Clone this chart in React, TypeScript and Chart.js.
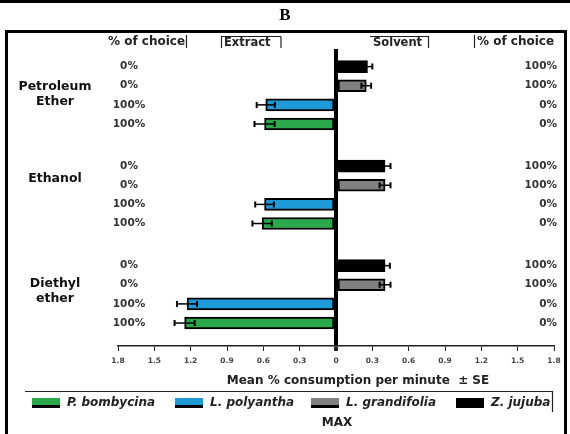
import React, { useEffect, useRef } from 'react';
import { Chart, registerables } from 'chart.js';
Chart.register(...registerables);

// ---------- data ----------
const groupLines = [['Petroleum', 'Ether'], ['Ethanol'], ['Diethyl', 'ether']];
// species in row order (top to bottom inside each group)
const speciesNames = ['Z. jujuba', 'L. grandifolia', 'L. polyantha', 'P. bombycina'];
const speciesSide = ['solvent', 'solvent', 'extract', 'extract'];
const speciesColors = ['#000000', '#808080', '#1E9AD8', '#2AA84A'];

const zJujuba = [0.26, 0.405, 0.405];
const zJujubaSE = [0.04, 0.045, 0.04];
const lGrandifolia = [0.25, 0.405, 0.405];
const lGrandifoliaSE = [0.04, 0.045, 0.045];
const lPolyantha = [0.58, 0.59, 1.23];
const lPolyanthaSE = [0.075, 0.077, 0.083];
const pBombycina = [0.59, 0.61, 1.25];
const pBombycinaSE = [0.083, 0.08, 0.083];

const speciesValues = [zJujuba, lGrandifolia, lPolyantha, pBombycina];
const speciesSE = [zJujubaSE, lGrandifoliaSE, lPolyanthaSE, pBombycinaSE];

// % of choice (extract side, solvent side) per species per group
const extractChoice = [[0, 0, 0], [0, 0, 0], [100, 100, 100], [100, 100, 100]];
const solventChoice = [[100, 100, 100], [100, 100, 100], [0, 0, 0], [0, 0, 0]];

const xMin = -1.8;
const xMax = 1.8;
const xStep = 0.3;

// ---------- layout constants ----------
const GROUP_STEP = 5.2;
const groupLabelAnchor = [1.47, 0.66, 1.35];
const legendOrder = [3, 2, 1, 0];

const SANS = '"DejaVu Sans", Verdana, sans-serif';

export default function App() {
  const ref = useRef<HTMLCanvasElement>(null);

  useEffect(() => {
    const datasets = speciesNames.map((name, si) => ({
      label: name,
      data: speciesValues[si].map((v, gi) => ({
        x: speciesSide[si] === 'extract' ? -v : v,
        y: gi * GROUP_STEP + si,
      })),
      backgroundColor: speciesColors[si],
      borderColor: '#000',
      borderWidth: 2,
      borderSkipped: false as any,
      barThickness: 12,
      grouped: false,
    }));

    const decor = {
      id: 'decor',
      afterDatasetsDraw(chart: any) {
        const ctx = chart.ctx;
        const xs = chart.scales.x;
        ctx.save();
        ctx.strokeStyle = '#000';
        chart.data.datasets.forEach((ds: any, si: number) => {
          const meta = chart.getDatasetMeta(si);
          meta.data.forEach((el: any, gi: number) => {
            const v = ds.data[gi].x;
            const se = speciesSE[si][gi];
            const x1 = xs.getPixelForValue(v - se);
            const x2 = xs.getPixelForValue(v + se);
            const y = el.y;
            ctx.lineWidth = 1.5;
            ctx.beginPath();
            ctx.moveTo(x1, y);
            ctx.lineTo(x2, y);
            ctx.stroke();
            ctx.lineWidth = 2;
            ctx.beginPath();
            ctx.moveTo(x1, y - 3);
            ctx.lineTo(x1, y + 3);
            ctx.moveTo(x2, y - 3);
            ctx.lineTo(x2, y + 3);
            ctx.stroke();
          });
        });
        ctx.restore();
      },
      afterDraw(chart: any) {
        const ctx = chart.ctx;
        const ys = chart.scales.y;
        ctx.save();
        // frames
        ctx.strokeStyle = '#000';
        ctx.lineWidth = 3;
        ctx.beginPath();
        ctx.moveTo(0, 1.5);
        ctx.lineTo(570, 1.5);
        ctx.stroke();
        ctx.beginPath();
        ctx.moveTo(6.5, 440);
        ctx.lineTo(6.5, 31.5);
        ctx.lineTo(565.5, 31.5);
        ctx.lineTo(565.5, 440);
        ctx.stroke();

        // title B
        ctx.fillStyle = '#000';
        ctx.textAlign = 'center';
        ctx.textBaseline = 'middle';
        ctx.font = 'bold 17px "Liberation Serif", "DejaVu Serif", serif';
        ctx.fillText('B', 285, 16);

        // headers
        ctx.fillStyle = '#222';
        ctx.font = 'bold 12px ' + SANS;
        ctx.textAlign = 'left';
        ctx.fillText('% of choice', 108, 42);
        ctx.fillText('% of choice', 477, 42);
        ctx.font = 'bold 11.5px ' + SANS;
        ctx.fillText('Extract', 224, 43);
        ctx.fillText('Solvent', 373, 43);
        ctx.lineWidth = 1.2;
        ctx.strokeStyle = '#222';
        ctx.beginPath();
        ctx.moveTo(186.5, 35); ctx.lineTo(186.5, 48);
        ctx.moveTo(474.5, 35); ctx.lineTo(474.5, 48);
        ctx.moveTo(221.5, 48); ctx.lineTo(221.5, 36.5); ctx.lineTo(281, 36.5);
        ctx.moveTo(281, 36.5); ctx.lineTo(281, 48);
        ctx.moveTo(370, 36.5); ctx.lineTo(428.5, 36.5); ctx.lineTo(428.5, 48);
        ctx.stroke();

        // group labels
        ctx.fillStyle = '#111';
        ctx.textAlign = 'center';
        ctx.font = 'bold 12.5px ' + SANS;
        groupLines.forEach((lines, gi) => {
          const cy = ys.getPixelForValue(gi * GROUP_STEP + groupLabelAnchor[gi]);
          const lh = 15;
          lines.forEach((ln, li) => {
            const y = cy + (li - (lines.length - 1) / 2) * lh;
            ctx.fillText(ln, 55, y);
          });
        });

        // % of choice columns
        ctx.fillStyle = '#333';
        ctx.font = 'bold 10.5px ' + SANS;
        speciesNames.forEach((_, si) => {
          groupLines.forEach((__, gi) => {
            const y = ys.getPixelForValue(gi * GROUP_STEP + si);
            ctx.textAlign = 'center';
            ctx.fillText(extractChoice[si][gi] + '%', 129, y);
            ctx.textAlign = 'right';
            ctx.fillText(solventChoice[si][gi] + '%', 557, y);
          });
        });

        // axis title
        ctx.fillStyle = '#222';
        ctx.textAlign = 'center';
        ctx.font = 'bold 12px ' + SANS;
        ctx.fillText('Mean % consumption per minute  \u00B1 SE', 358, 381);

        // legend
        ctx.strokeStyle = '#222';
        ctx.lineWidth = 1.2;
        ctx.beginPath();
        ctx.moveTo(25, 391.5);
        ctx.lineTo(552.5, 391.5);
        ctx.lineTo(552.5, 412);
        ctx.stroke();
        const swX = [32, 175, 311, 456];
        legendOrder.forEach((si, k) => {
          const x = swX[k];
          ctx.fillStyle = speciesColors[si];
          ctx.fillRect(x, 398, 28, 10);
          ctx.fillStyle = '#000';
          ctx.fillRect(x, 405, 28, 3);
          ctx.fillStyle = '#222';
          ctx.textAlign = 'left';
          ctx.font = 'italic bold 12px ' + SANS;
          ctx.fillText(speciesNames[si], x + 35, 403);
        });

        ctx.fillStyle = '#222';
        ctx.textAlign = 'center';
        ctx.font = 'bold 12px ' + SANS;
        ctx.fillText('MAX', 337, 423);
        ctx.restore();
      },
    };

    const isZero = (v: number) => Math.abs(v) < 1e-9;

    const chart = new Chart(ref.current as HTMLCanvasElement, {
      type: 'bar',
      data: { datasets: datasets as any },
      options: {
        indexAxis: 'y',
        responsive: false,
        animation: false,
        devicePixelRatio: 1,
        layout: { padding: { left: 118, right: 16, top: 49, bottom: 62 } },
        plugins: { legend: { display: false }, tooltip: { enabled: false } },
        scales: {
          x: {
            type: 'linear',
            min: xMin,
            max: xMax,
            ticks: {
              stepSize: xStep,
              color: '#444',
              padding: 6,
              font: { family: SANS, size: 7.5, weight: 'bold' },
              callback: (v: any) => (isZero(Number(v)) ? '0' : Math.abs(Number(v)).toFixed(1)),
            },
            grid: {
              drawOnChartArea: true,
              color: (c: any) => (c.tick && isZero(c.tick.value) ? '#000' : 'rgba(0,0,0,0)'),
              lineWidth: (c: any) => (c.tick && isZero(c.tick.value) ? 4 : 1),
              tickColor: '#222',
              tickWidth: (c: any) => (c.tick && isZero(c.tick.value) ? 4 : 1),
              tickLength: 5,
            } as any,
            border: { display: true, color: '#222', width: 1.5 },
          },
          y: {
            type: 'linear',
            display: false,
            reverse: true,
            offset: false,
            min: -0.92,
            max: 14.6,
            grid: { offset: false },
          },
        },
      } as any,
      plugins: [decor],
    });
    return () => chart.destroy();
  }, []);

  return (
    <div style={{ position: 'fixed', left: 0, top: 0, width: 570, height: 434, background: '#fff' }}>
      <canvas ref={ref} width={570} height={434} style={{ width: 570, height: 434, display: 'block' }} />
    </div>
  );
}
